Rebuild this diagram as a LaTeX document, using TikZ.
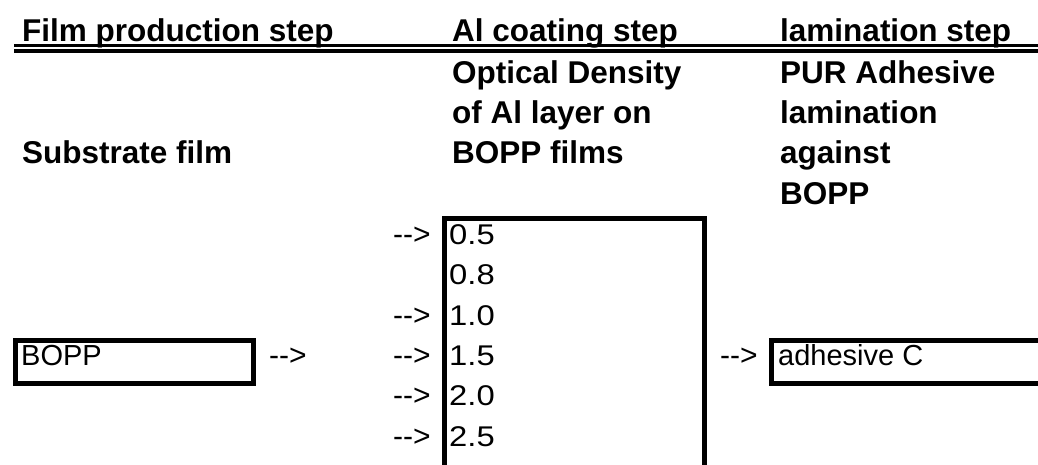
\documentclass[tikz,border=0pt]{standalone}
\usepackage{fontspec}
\setmainfont{Liberation Sans}
\newfontfamily\numfont[FakeStretch=1.15]{Liberation Sans}
\begin{document}
\begin{tikzpicture}[x=1pt,y=-1pt,
  hdr/.style={anchor=base west,inner sep=0pt,font=\bfseries\fontsize{31.5}{38}\selectfont},
  txt/.style={anchor=base west,inner sep=0pt,font=\fontsize{29}{35}\selectfont},
  num/.style={anchor=base west,inner sep=0pt,font=\numfont\fontsize{28.5}{35}\selectfont},
  arr/.style={anchor=base west,inner sep=0pt,font=\fontsize{30}{35}\selectfont},
  cellbox/.style={draw=black,line width=5pt},
  rule/.style={draw=black,line width=3.3pt}]
\useasboundingbox (0,0) rectangle (1038,465);
% header
\node[hdr] (h1) at (22,42) {Film production step};
\node[hdr] (h2) at (452,42) {Al coating step};
\node[hdr] (h3) at (780,42) {lamination step};
\coordinate (rl) at (14,51);
\coordinate (rr) at (1038,51);
\draw[rule] (rl) -- (rr);
\draw[rule] ([yshift=5.7pt]rl) -- ([yshift=5.7pt]rr);
% subheaders
\node[hdr] (b1) at (452,83.3) {Optical Density};
\node[hdr] (b2) at (452,123.6) {of Al layer on};
\node[hdr] (b3) at (452,163.9) {BOPP films};
\node[hdr] (c1) at (780,83.3) {PUR Adhesive};
\node[hdr] (c2) at (780,123.6) {lamination};
\node[hdr] (c3) at (780,163.9) {against};
\node[hdr] (c4) at (780,204.2) {BOPP};
\node[hdr] (a1) at (22,163.9) {Substrate film};
% boxes
\coordinate (nb1) at (444.5,218.5);
\coordinate (nb2) at (704.5,467);
\draw[cellbox] (nb1) rectangle (nb2);
\coordinate (bb1) at (15.5,340.5);
\coordinate (bb2) at (253.5,383.5);
\draw[cellbox] (bb1) rectangle (bb2);
\coordinate (ab1) at (771.5,340.5);
\coordinate (ab2) at (1045,383.5);
\draw[cellbox] (ab1) rectangle (ab2);
% values
\node[num] (v05) at (449,244.5) {0.5};
\node[num] (v08) at (449,284.8) {0.8};
\node[num] (v10) at (449,325.1) {1.0};
\node[num] (v15) at (449,365.4) {1.5};
\node[num] (v20) at (449,405.7) {2.0};
\node[num] (v25) at (449,446) {2.5};
\node[arr] (r05) at (393,244.5) {-{}->};
\node[arr] (r10) at (393,325.1) {-{}->};
\node[arr] (r15) at (393,365.4) {-{}->};
\node[arr] (r20) at (393,405.7) {-{}->};
\node[arr] (r25) at (393,446) {-{}->};
\node[txt] (bopp) at (21,365.4) {BOPP};
\node[arr] (ra) at (269,365.4) {-{}->};
\node[arr] (rc) at (720,365.4) {-{}->};
\node[txt] (adh) at (778,365.4) {adhesive C};
\end{tikzpicture}
\end{document}
